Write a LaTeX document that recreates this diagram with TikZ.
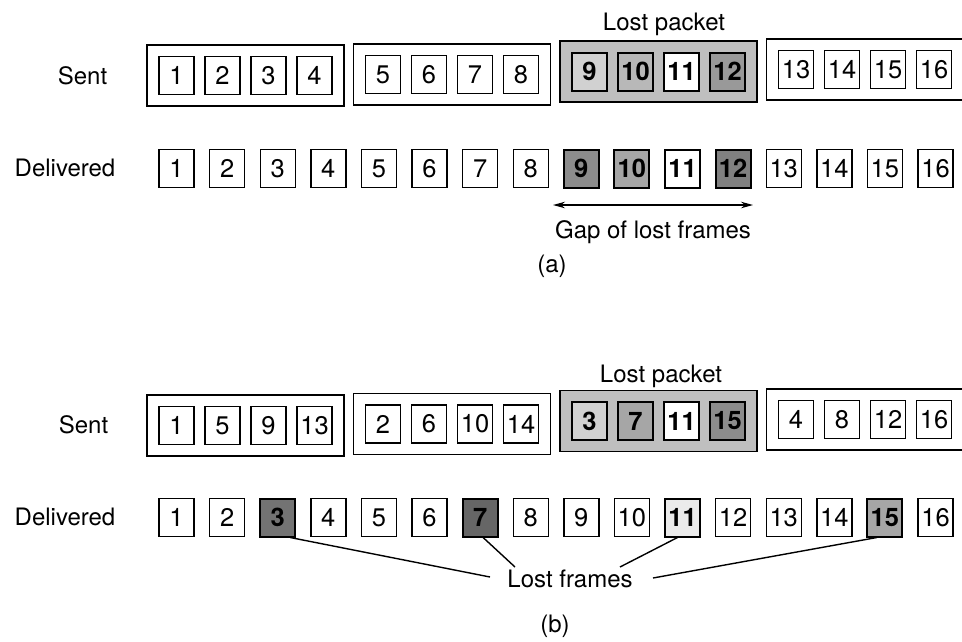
\documentclass[tikz,border=0pt]{standalone}
\usepackage{fontspec}
\setmainfont{TeX Gyre Heros}
\usetikzlibrary{arrows.meta}
\begin{document}
\begin{tikzpicture}[x=1pt,y=-1pt,
  every node/.style={font=\fontsize{24}{28}\selectfont},
  frm/.style={draw, line width=1.4pt, minimum width=35pt, minimum height=38pt, inner sep=0pt, fill=white, font=\fontsize{25.5}{28}\selectfont},
  lostfrm/.style={frm, line width=2pt, font=\fontsize{25.5}{28}\selectfont\bfseries},
  pkt/.style={draw, line width=1.4pt, minimum width=197pt, minimum height=61pt, inner sep=0pt},
  lastpkt/.style={pkt, minimum width=215pt},
  lostpkt/.style={pkt, fill=black!25},
  lbl/.style={inner sep=0pt, anchor=base},
  conn/.style={line width=1.4pt},
  gaparrow/.style={line width=1.4pt, {Stealth[length=12pt,width=6.5pt]}-{Stealth[length=12pt,width=6.5pt]}}]
\useasboundingbox (0,0) rectangle (962,641);
\clip (0,0) rectangle (962,641);

% ---------------- (a) ----------------
\node[lbl] (sentA) at (82.5,84) {Sent};
\node[lbl] (delA) at (65,176) {Delivered};
\node[lbl] (lpA) at (664,30) {Lost packet};

\node[pkt] (pa1) at (245.5,75.5) {};
\node[pkt] (pa2) at (452,74.5) {};
\node[lostpkt] (pa3) at (658.5,71.5) {};
\node[lastpkt] (pa4) at (874,69.5) {};

\foreach \p/\py in {0/75.5,1/74.5,3/69.5} {
  \foreach \j in {0,...,3} {
    \pgfmathtruncatemacro\k{4*\p+\j+1}
    \node[frm] (as\k) at ({176.5+206.5*\p+46*\j},\py) {\k};
  }
}
\node[lostfrm, fill=black!18] (as9)  at (589.5,71.5) {9};
\node[lostfrm, fill=black!28] (as10) at (635.5,71.5) {10};
\node[lostfrm, fill=white]    (as11) at (681.5,71.5) {11};
\node[lostfrm, fill=black!40] (as12) at (727.5,71.5) {12};

\foreach \k in {1,...,8,13,14,15,16} {
  \node[frm] (ad\k) at ({176.5+50.6*(\k-1)},168.5) {\k};
}
\node[lostfrm, fill=black!45] (ad9)  at (581.3,168.5) {9};
\node[lostfrm, fill=black!35] (ad10) at (631.9,168.5) {10};
\node[lostfrm, fill=white]    (ad11) at (682.5,168.5) {11};
\node[lostfrm, fill=black!50] (ad12) at (733.1,168.5) {12};

\coordinate (gapL) at (553,205);
\coordinate (gapR) at (753,205);
\draw[gaparrow] (gapL) -- (gapR);
\node[lbl] (gapT) at (653,238) {Gap of lost frames};
\node[lbl] (capA) at (552,272) {(a)};

% ---------------- (b) ----------------
\node[lbl] (sentB) at (83.5,433) {Sent};
\node[lbl] (delB) at (65,525) {Delivered};
\node[lbl] (lpB) at (661,382) {Lost packet};

\node[pkt] (pb1) at (245.5,425.5) {};
\node[pkt] (pb2) at (452,424) {};
\node[lostpkt] (pb3) at (658.5,421) {};
\node[lastpkt] (pb4) at (874,419.5) {};

\foreach \p/\py in {0/425.5,1/424,3/419.5} {
  \foreach \j in {0,...,3} {
    \pgfmathtruncatemacro\k{4*\p+\j+1}
    \pgfmathtruncatemacro\v{4*\j+\p+1}
    \node[frm] (bs\k) at ({176.5+206.5*\p+46*\j},\py) {\v};
  }
}
\node[lostfrm, fill=black!18] (bs9)  at (589.5,421) {3};
\node[lostfrm, fill=black!35] (bs10) at (635.5,421) {7};
\node[lostfrm, fill=white]    (bs11) at (681.5,421) {11};
\node[lostfrm, fill=black!45] (bs12) at (727.5,421) {15};

\foreach \k in {1,2,4,5,6,8,9,10,12,13,14,16} {
  \node[frm] (bd\k) at ({176.5+50.6*(\k-1)},517.5) {\k};
}
\node[lostfrm, fill=black!55] (bd3)  at (277.7,517.5) {3};
\node[lostfrm, fill=black!60] (bd7)  at (480.1,517.5) {7};
\node[lostfrm, fill=black!8]  (bd11) at (682.5,517.5) {11};
\node[lostfrm, fill=black!35] (bd15) at (884.9,517.5) {15};

\node[lbl] (lf) at (570,587) {Lost frames};
\coordinate (lfa) at (490,577);
\coordinate (lfb) at (515,567);
\coordinate (lfc) at (620,567);
\coordinate (lfd) at (653,578);
\draw[conn] ([xshift=-6pt]bd3.south east) -- (lfa);
\draw[conn] ([xshift=3pt]bd7.south) -- (lfb);
\draw[conn] ([xshift=-5pt]bd11.south) -- (lfc);
\draw[conn] ([xshift=-8pt]bd15.south) -- (lfd);
\node[lbl] (capB) at (555,632) {(b)};
\end{tikzpicture}
\end{document}
